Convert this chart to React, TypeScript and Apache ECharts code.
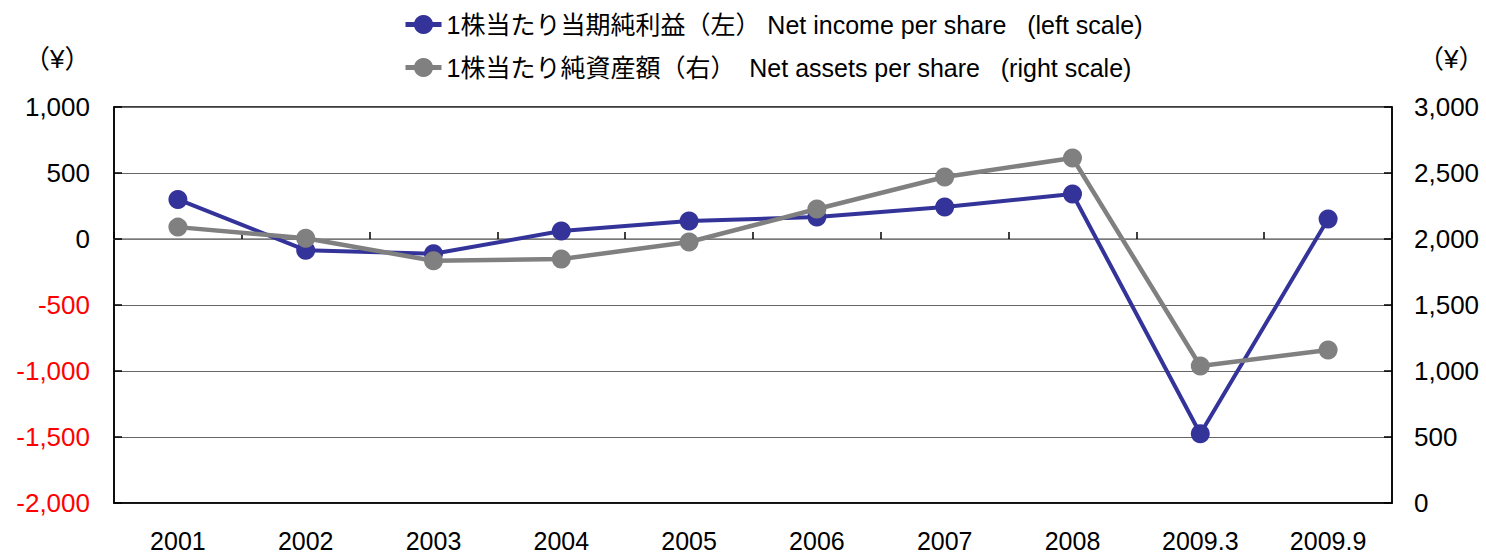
import React, { useEffect, useRef } from "react";
import * as echarts from "echarts";

const categories = ["2001", "2002", "2003", "2004", "2005", "2006", "2007", "2008", "2009.3", "2009.9"];
const netIncome = [300, -85, -112, 60, 136, 167, 242, 341, -1475, 152];
const netAssets = [2090, 2005, 1835, 1848, 1977, 2227, 2470, 2614, 1038, 1159];
const incomeName = "1株当たり当期純利益（左） Net income per share   (left scale)";
const assetsName = "1株当たり純資産額（右）  Net assets per share   (right scale)";
const unitLabel = "（¥）";

const FONT = "'Liberation Sans', Arial, 'Noto Sans CJK JP', sans-serif";

function fmt(v: number) {
  return v.toLocaleString("en-US");
}

export default function App() {
  const ref = useRef<HTMLDivElement>(null);
  useEffect(() => {
    document.body.style.margin = "0";
    const chart = echarts.init(ref.current!, null, { renderer: "svg" });
    chart.setOption({
      animation: false,
      textStyle: { fontFamily: FONT },
      grid: { left: 114, right: 94, top: 107, bottom: 55, show: true, borderColor: "#000", borderWidth: 1.5, backgroundColor: "transparent" },
      legend: {
        orient: "vertical",
        left: 398,
        top: 7,
        itemGap: 18,
        itemWidth: 36,
        itemHeight: 24,
        lineStyle: { width: 5 },
        textStyle: { fontSize: 25, color: "#000", fontFamily: FONT },
        data: [incomeName, assetsName],
      },
      graphic: [
        { type: "text", left: 24, top: 46, style: { text: unitLabel, fontSize: 26, fill: "#000", fontFamily: FONT } },
        { type: "text", left: 1418, top: 46, style: { text: unitLabel, fontSize: 26, fill: "#000", fontFamily: FONT } },
      ],
      xAxis: [
        {
          type: "category",
          data: categories,
          position: "bottom",
          axisLine: { show: true, onZero: false, lineStyle: { color: "#000", width: 1.5 } },
          axisTick: { show: false },
          axisLabel: { fontSize: 25, color: "#000", margin: 25, fontFamily: FONT },
        },
        {
          type: "category",
          data: categories,
          position: "bottom",
          axisLine: { show: true, onZero: true, onZeroAxisIndex: 0, lineStyle: { color: "#808080", width: 1.5 } },
          axisTick: { show: true, inside: true, length: 7, lineStyle: { color: "#000", width: 1.5 } },
          axisLabel: { show: false },
        },
      ],
      yAxis: [
        {
          type: "value",
          min: -2000,
          max: 1000,
          interval: 500,
          axisLine: { show: true, lineStyle: { color: "#000", width: 1.5 } },
          axisTick: { show: true, inside: true, length: 8, lineStyle: { color: "#000", width: 1.5 } },
          splitLine: { show: true, lineStyle: { color: "#666", width: 1.2 } },
          axisLabel: {
            fontSize: 26,
            margin: 24,
            fontFamily: FONT,
            formatter: (v: number) => fmt(v),
            color: (v: any) => (Number(v) < 0 ? "#ff0000" : "#000"),
          },
        },
        {
          type: "value",
          min: 0,
          max: 3000,
          interval: 500,
          axisLine: { show: true, lineStyle: { color: "#000", width: 1.5 } },
          axisTick: { show: true, inside: true, length: 8, lineStyle: { color: "#000", width: 1.5 } },
          splitLine: { show: false },
          axisLabel: { fontSize: 26, margin: 22, color: "#000", fontFamily: FONT, formatter: (v: number) => fmt(v) },
        },
      ],
      series: [
        {
          name: incomeName,
          type: "line",
          xAxisIndex: 0,
          yAxisIndex: 0,
          data: netIncome,
          symbol: "circle",
          symbolSize: 19,
          z: 3,
          lineStyle: { color: "#333399", width: 4 },
          itemStyle: { color: "#333399" },
        },
        {
          name: assetsName,
          type: "line",
          xAxisIndex: 0,
          yAxisIndex: 1,
          data: netAssets,
          symbol: "circle",
          symbolSize: 19,
          z: 4,
          lineStyle: { color: "#808080", width: 4.5 },
          itemStyle: { color: "#808080" },
        },
      ],
    });
    return () => chart.dispose();
  }, []);
  return <div ref={ref} style={{ width: 1486, height: 558 }} />;
}
